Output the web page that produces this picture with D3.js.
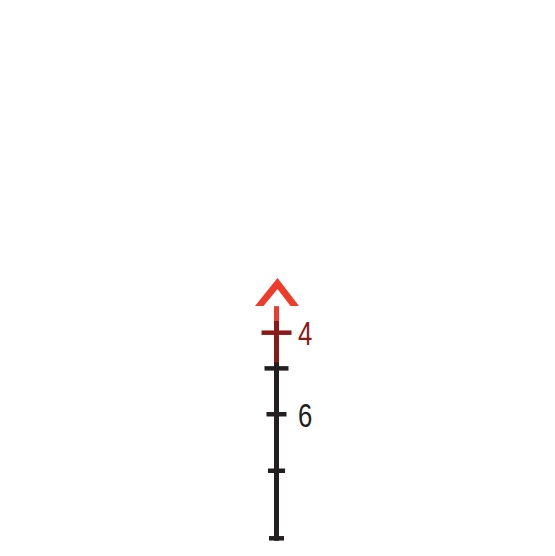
<!DOCTYPE html>
<html>
<head>
<meta charset="utf-8">
<script src="https://cdn.jsdelivr.net/npm/d3@7"></script>
<style>
  html, body { margin: 0; padding: 0; background: #fff; }
  svg { display: block; }
</style>
</head>
<body>
<div id="chart"></div>
<script>
// Scale values
const scaleDomain = [3, 8];
const tickValues = [4, 5, 6, 7, 8];
const labelValues = [4, 6];
const highlightValue = 4;
const highlightRange = [3.6, 4.85];

const width = 555, height = 556;
const margin = { top: 306.6, bottom: 17.7 };
const axisX = 276.5;

const svg = d3.select("#chart")
    .append("svg")
    .attr("width", width)
    .attr("height", height);

// Spacing grows towards the bottom
const yScale = d3.scalePow()
    .exponent(2.25)
    .domain(scaleDomain)
    .range([margin.top, height - margin.bottom]);

// Tick half-length shrinks with the value
const tickHalf = (v) => 60 / v;

const red = "#ef3b2a", darkRed = "#8a1a17", black = "#231f20";

// Main axis line (black)
svg.append("line")
    .attr("x1", axisX).attr("x2", axisX)
    .attr("y1", yScale(scaleDomain[0]))
    .attr("y2", yScale(scaleDomain[1]) + 2.5)
    .attr("stroke", black)
    .attr("stroke-width", 5);

// Part above the range (bright red)
svg.append("line")
    .attr("x1", axisX).attr("x2", axisX)
    .attr("y1", yScale(scaleDomain[0]))
    .attr("y2", yScale(highlightRange[0]))
    .attr("stroke", red)
    .attr("stroke-width", 5);

// Highlighted range (dark red)
svg.append("line")
    .attr("x1", axisX).attr("x2", axisX)
    .attr("y1", yScale(highlightRange[0]))
    .attr("y2", yScale(highlightRange[1]))
    .attr("stroke", darkRed)
    .attr("stroke-width", 5);

// Ticks
svg.selectAll(".tick")
    .data(tickValues)
    .enter()
    .append("line")
    .attr("class", "tick")
    .attr("x1", (d) => axisX - tickHalf(d))
    .attr("x2", (d) => axisX + tickHalf(d))
    .attr("y1", (d) => yScale(d))
    .attr("y2", (d) => yScale(d))
    .attr("stroke", (d) => d === highlightValue ? darkRed : black)
    .attr("stroke-width", 4.5);

// Labels (narrowed to look condensed)
svg.selectAll(".label")
    .data(labelValues)
    .enter()
    .append("text")
    .attr("class", "label")
    .attr("transform", (d) => `translate(${axisX + 21.5},${yScale(d) + 1}) scale(0.78,1)`)
    .attr("dominant-baseline", "central")
    .attr("fill", (d) => d === highlightValue ? darkRed : black)
    .style("font-family", "'Liberation Sans', Arial, sans-serif")
    .style("font-size", "33px")
    .text((d) => d);

// Off-scale marker above the top
const topY = yScale(scaleDomain[0]);
svg.append("path")
    .attr("d", `M${axisX - 21.5},${topY - 0.5} L${axisX + 1},${topY - 28.5} L${axisX + 22.5},${topY - 0.5}
                L${axisX + 14},${topY - 0.5} L${axisX + 1},${topY - 17.5} L${axisX - 13},${topY - 0.5} Z`)
    .attr("fill", red);
</script>
</body>
</html>
